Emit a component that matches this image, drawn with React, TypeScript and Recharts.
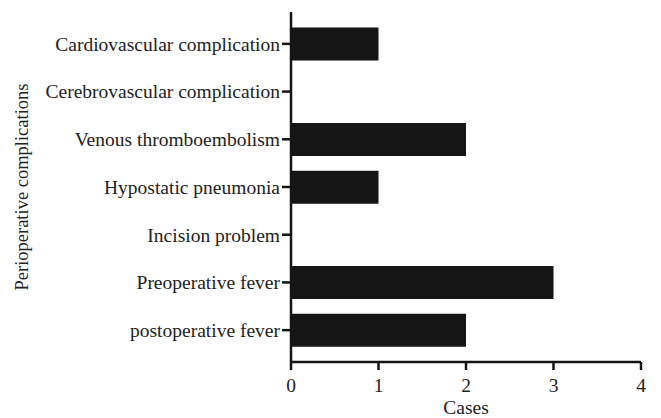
import React from 'react';
import { BarChart, Bar, XAxis, YAxis } from 'recharts';

const categories = [
  'Cardiovascular complication',
  'Cerebrovascular complication',
  'Venous thromboembolism',
  'Hypostatic pneumonia',
  'Incision problem',
  'Preoperative fever',
  'postoperative fever',
];
const cases = [1, 0, 2, 1, 0, 3, 2];
const xTicks = [0, 1, 2, 3, 4];

const data = categories.map((name, i) => ({ name, cases: cases[i] }));

const font = 'Liberation Serif';
const axisColor = '#141414';
const textStyle = { fontFamily: font, fontSize: 19.5 };
const labelStyle = { fontFamily: font, fontSize: 18.5 };

export default function App() {
  return (
    <div style={{ position: 'absolute', left: 0, top: 0, background: '#fff', fontFamily: font }}>
      <BarChart
        width={661}
        height={418}
        data={data}
        layout="vertical"
        margin={{ top: 12, right: 20, bottom: 0, left: 0 }}
        barCategoryGap={7.5}
      >
        <XAxis
          type="number"
          domain={[0, 4]}
          ticks={xTicks}
          height={56}
          stroke={axisColor}
          strokeWidth={2.5}
          tickSize={8}
          tickMargin={8}
          tick={{ fill: '#222', fontSize: 19.5, fontFamily: font, style: textStyle }}
          label={{ value: 'Cases', position: 'insideBottom', offset: 4, fill: '#222', style: textStyle }}
        />
        <YAxis
          type="category"
          dataKey="name"
          width={291}
          padding={{ top: 8, bottom: 8 }}
          stroke={axisColor}
          strokeWidth={2.5}
          tickSize={9}
          tickMargin={2}
          interval={0}
          tick={{ fill: '#222', fontSize: 19.5, fontFamily: font, style: textStyle }}
          label={{ value: 'Perioperative complications', angle: -90, position: 'insideLeft', offset: 21, fill: '#222', style: { ...labelStyle, textAnchor: 'middle' } }}
        />
        <Bar dataKey="cases" fill="#151515" isAnimationActive={false} />
      </BarChart>
    </div>
  );
}
